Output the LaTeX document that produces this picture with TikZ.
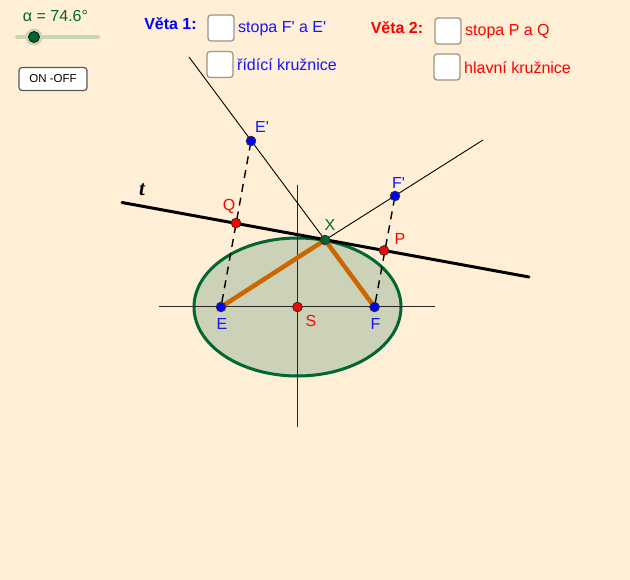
\documentclass[tikz,border=0pt]{standalone}
\usepackage{fontspec}
\usetikzlibrary{shapes.geometric}
\setmainfont{Liberation Sans}[Ligatures=TeXOff]
\newfontfamily\tfont{Liberation Serif}
\definecolor{bgc}{HTML}{FFEFD6}
\definecolor{ellgreen}{HTML}{006633}
\definecolor{ellfill}{HTML}{CCD2B8}
\definecolor{sliderc}{HTML}{CDD4B4}
\definecolor{segc}{HTML}{CC6600}
\definecolor{blu}{HTML}{0000FF}
\definecolor{textblu}{HTML}{1515FF}
\definecolor{redc}{HTML}{FF0000}
\definecolor{boxc}{HTML}{9C9486}
\tikzset{
  thinl/.style={line width=0.9pt,black},
  axisl/.style={line width=1pt,black!85},
  dashl/.style={line width=1.4pt,black,dash pattern=on 8pt off 6pt},
  pt/.style={circle,draw=black!80,line width=0.7pt,inner sep=0pt,minimum size=9.5pt},
  bluept/.style={pt,fill=blu},
  redpt/.style={pt,fill=redc},
  lab/.style={inner sep=0pt,font=\fontsize{16}{18}\selectfont},
  check/.style={draw=boxc,fill=white,rounded corners=3pt,line width=1.3pt,minimum size=26pt,inner sep=0pt},
}
\begin{document}
\begin{tikzpicture}[x=1pt,y=-1pt]
\fill[bgc] (0,0) rectangle (630,580);
\useasboundingbox (0,0) rectangle (630,580);
% coordinates
\coordinate (S0) at (297.5,307);
\coordinate (hL) at (159,307);
\coordinate (hR) at (435,307);
\coordinate (vT) at (297.5,185);
\coordinate (vB) at (297.5,427);
\coordinate (tA) at (122,202.5);
\coordinate (tB) at (529,277);
\coordinate (eEnd) at (189,57);
\coordinate (fEnd) at (483,140);
% ellipse
\node[draw=ellgreen,fill=ellfill,line width=3pt,ellipse,minimum width=207pt,minimum height=138pt,inner sep=0pt] (ell) at (S0) {};
% axes
\draw[axisl] (hL) -- (hR);
\draw[axisl] (vT) -- (vB);
% nodes
\node[bluept] (E) at (221,307) {};
\node[bluept] (F) at (374.5,307) {};
\node[redpt] (S) at (297.5,307) {};
\node[pt,fill=ellgreen] (X) at (325,240) {};
\node[bluept] (Ep) at (251,141) {};
\node[bluept] (Fp) at (395,196) {};
\node[redpt] (Q) at (236,223) {};
\node[redpt] (P) at (384,250.5) {};
% connectors
\draw[thinl] (eEnd) -- (X.center);
\draw[thinl] (X.center) -- (fEnd);
\draw[dashl] (E) -- (Ep);
\draw[dashl] (F) -- (Fp);
\draw[line width=3pt,black,line cap=round] (tA) -- (tB);
\draw[segc,line width=4.5pt] (E.center) -- (X.center);
\draw[segc,line width=4.5pt] (F.center) -- (X.center);
% redraw points above lines
\node[bluept] at (E) {};
\node[bluept] at (F) {};
\node[redpt] at (S) {};
\node[pt,fill=ellgreen] at (X) {};
\node[bluept] at (Ep) {};
\node[bluept] at (Fp) {};
\node[redpt] at (Q) {};
\node[redpt] at (P) {};
% point labels
\node[lab,text=textblu] (lE) at (222,324) {E};
\node[lab,text=textblu] (lF) at (375.5,324) {F};
\node[lab,text=redc] (lS) at (311,321) {S};
\node[lab,text=ellgreen] (lX) at (330,225) {X};
\node[lab,text=textblu] (lEp) at (262,127) {E'};
\node[lab,text=textblu] (lFp) at (398.5,183) {F'};
\node[lab,text=redc] (lQ) at (229,206) {Q};
\node[lab,text=redc] (lP) at (400,239) {P};
\node[inner sep=0pt,font=\fontsize{21}{23}\selectfont\tfont\bfseries\itshape] (lt) at (142,190) {t};
% slider
\coordinate (sA) at (17,37);
\coordinate (sB) at (98,37);
\draw[sliderc,line width=4pt,line cap=round] (sA) -- (sB);
\node[circle,fill=sliderc,inner sep=0pt,minimum size=17pt] (hh) at (34,37) {};
\node[circle,draw=black,fill=ellgreen,line width=0.7pt,inner sep=0pt,minimum size=11pt] (h) at (34,37) {};
\node[lab,text=ellgreen] (alpha) at (55.5,16) {α = 74.6°};
% button
\node[draw=black!65,fill=white,rounded corners=3pt,line width=1.2pt,minimum width=68pt,minimum height=23pt,inner sep=0pt,font=\fontsize{11.5}{13}\selectfont] (btn) at (53,79) {ON -OFF};
% checkboxes and captions
\node[lab,font=\fontsize{16}{18}\selectfont\bfseries,text=blu] (v1) at (170.5,24) {Věta 1:};
\node[lab,font=\fontsize{16}{18}\selectfont\bfseries,text=redc] (v2) at (397,28) {Věta 2:};
\node[check] (c1) at (221,28) {};
\node[check] (c2) at (220,64.5) {};
\node[check] (c3) at (448,31) {};
\node[check] (c4) at (447,67) {};
\node[lab,anchor=west,text=textblu] (t1) at (238,28.5) {stopa F' a E'};
\node[lab,anchor=west,text=textblu] (t2) at (237,65) {řídící kružnice};
\node[lab,anchor=west,text=redc] (t3) at (465,31.5) {stopa P a Q};
\node[lab,anchor=west,text=redc] (t4) at (464,67.5) {hlavní kružnice};
\end{tikzpicture}
\end{document}
